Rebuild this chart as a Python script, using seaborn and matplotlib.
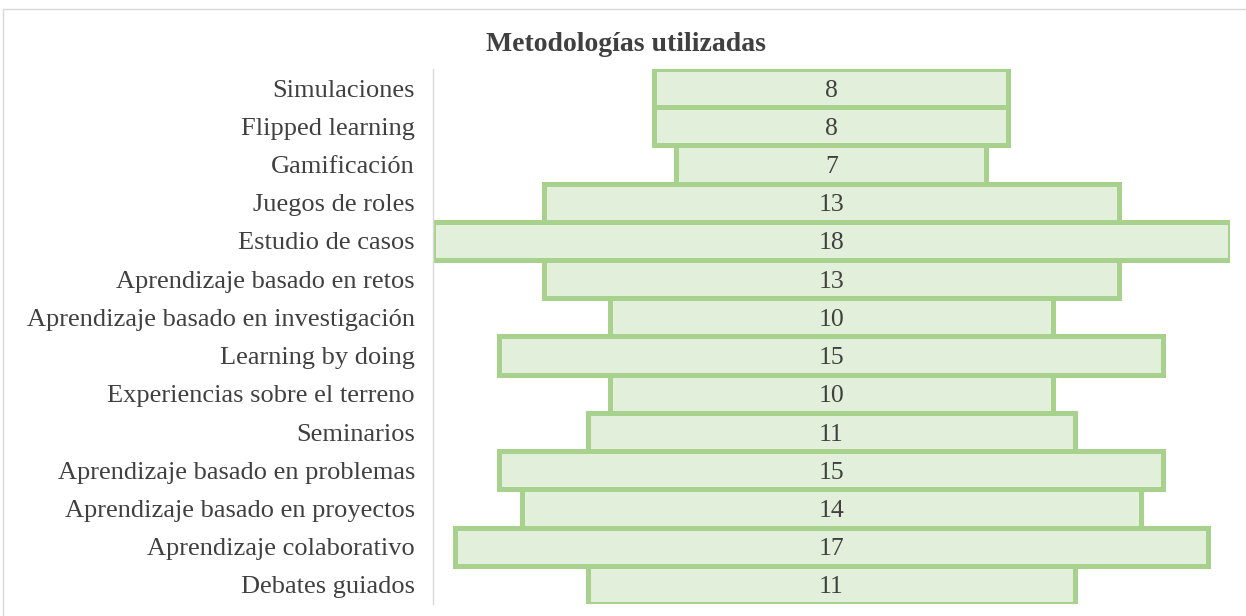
import matplotlib
matplotlib.use("Agg")
import matplotlib.pyplot as plt
import seaborn as sns
import pandas as pd
from matplotlib.patches import Rectangle

categories = ["Simulaciones", "Flipped learning", "Gamificación", "Juegos de roles",
              "Estudio de casos", "Aprendizaje basado en retos",
              "Aprendizaje basado en investigación", "Learning by doing",
              "Experiencias sobre el terreno", "Seminarios",
              "Aprendizaje basado en problemas", "Aprendizaje basado en proyectos",
              "Aprendizaje colaborativo", "Debates guiados"]
values = [8, 8, 7, 13, 18, 13, 10, 15, 10, 11, 15, 14, 17, 11]
title = "Metodologías utilizadas"

sns.set_theme(style="white")
plt.rcParams['font.family'] = ['Liberation Serif', 'DejaVu Serif']

df = pd.DataFrame({"cat": categories, "val": values})
fig = plt.figure(figsize=(12.46, 6.16), dpi=100)
ax = fig.add_axes([0.3475, 0.0195, 0.6395, 0.8685])

sns.barplot(data=df, x="val", y="cat", orient="h", ax=ax, width=1.0,
            color="#E2EFDA", edgecolor="#A9D18E", linewidth=3.6, saturation=1)

for p, v in zip(ax.patches, values):
    p.set_x(-v / 2)
    ax.text(0, p.get_y() + p.get_height() / 2, str(v), ha="center",
            va="center_baseline", fontsize=18.5, color="#404040")

ax.set_xlim(-9, 9)
ax.set_ylim(13.5, -0.5)
ax.set_xlabel("")
ax.set_ylabel("")
ax.set_xticks([])
ax.tick_params(axis="y", length=0, pad=13, labelsize=19, labelcolor="#404040")
for s in ["top", "right", "bottom"]:
    ax.spines[s].set_visible(False)
ax.spines["left"].set_color("#D9D9D9")
ax.spines["left"].set_linewidth(1.0)

fig.text(0.502, 0.928, title, ha="center", va="center", fontsize=20,
         fontweight="bold", color="#404040")

fig.patches.append(Rectangle((3 / 1246, -0.01), 1.0, 1 - 9 / 616 + 0.01,
                             transform=fig.transFigure, fill=False,
                             edgecolor="#D9D9D9", linewidth=1.0))

fig.savefig("out.png", dpi=100)
